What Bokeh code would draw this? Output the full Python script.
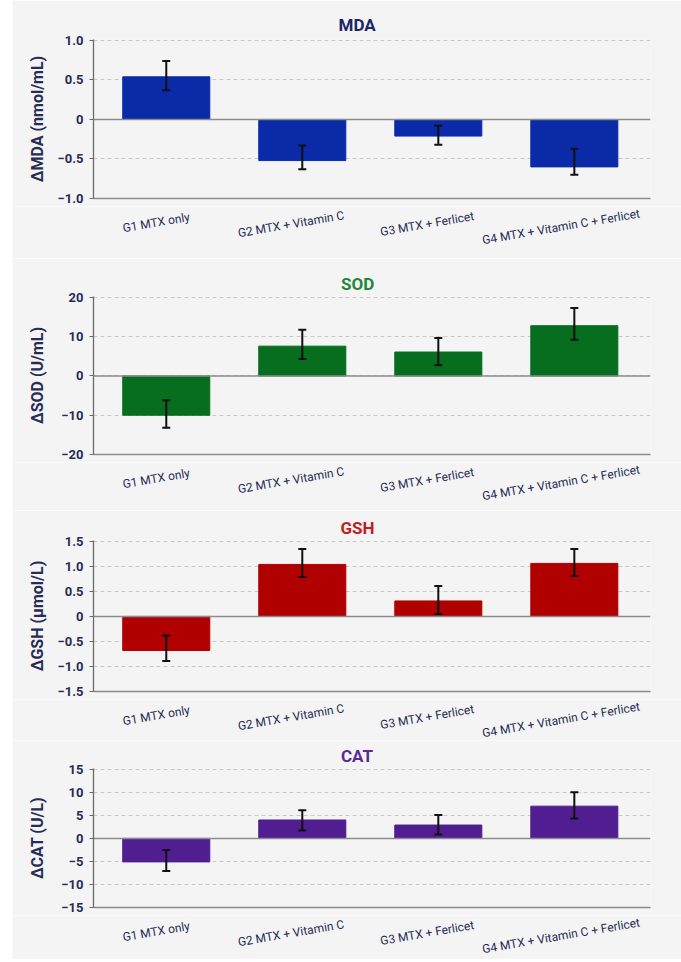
import math
from bokeh.plotting import figure
from bokeh.models import (ColumnDataSource, Range1d, FixedTicker, Whisker, TeeHead,
                          Span, Title)
from bokeh.layouts import column
from bokeh.embed import file_html
from bokeh.resources import INLINE
from bokeh.core.properties import value

# ---------------- data ----------------
groups = ["G1 MTX only", "G2 MTX + Vitamin C", "G3 MTX + Ferlicet",
          "G4 MTX + Vitamin C + Ferlicet"]

mda_mean = [0.54, -0.52, -0.21, -0.60]
mda_low = [0.37, -0.63, -0.32, -0.70]
mda_high = [0.74, -0.33, -0.08, -0.37]

sod_mean = [-10.0, 7.6, 6.1, 12.8]
sod_low = [-13.2, 4.3, 2.7, 9.2]
sod_high = [-6.2, 11.8, 9.7, 17.3]

gsh_mean = [-0.68, 1.04, 0.31, 1.06]
gsh_low = [-0.89, 0.79, 0.05, 0.81]
gsh_high = [-0.38, 1.35, 0.61, 1.35]

cat_mean = [-5.1, 4.0, 2.9, 7.0]
cat_low = [-7.1, 1.7, 0.85, 4.3]
cat_high = [-2.5, 6.1, 5.1, 10.05]

mda_ticks = [-1.0, -0.5, 0, 0.5, 1.0]
mda_tick_labels = ["\u22121.0", "\u22120.5", "0", "0.5", "1.0"]
sod_ticks = [-20, -10, 0, 10, 20]
sod_tick_labels = ["\u221220", "\u221210", "0", "10", "20"]
gsh_ticks = [-1.5, -1.0, -0.5, 0, 0.5, 1.0, 1.5]
gsh_tick_labels = ["\u22121.5", "\u22121.0", "\u22120.5", "0", "0.5", "1.0", "1.5"]
cat_ticks = [-15, -10, -5, 0, 5, 10, 15]
cat_tick_labels = ["\u221215", "\u221210", "\u22125", "0", "5", "10", "15"]

titles = ["MDA", "SOD", "GSH", "CAT"]
y_labels = ["\u0394MDA (nmol/mL)", "\u0394SOD (U/mL)", "\u0394GSH (\u00b5mol/L)", "\u0394CAT (U/L)"]

# ---------------- style ----------------
BG = "#f4f4f4"
NAVY = "#262c55"
bar_colors = ["#0a2aa8", "#066e1e", "#b00000", "#501e91"]
title_colors = ["#1b2569", "#21883a", "#bf1e24", "#5b2a93"]
# chart: (height, top border, bottom border); strip height below each chart
chart_spec = [(206, 39, 8), (204, 38, 8), (189, 30, 8), (175, 27, 8)]
strip_h = [52, 48, 41, 44]
title_w = [38, 33, 34, 33]          # approximate rendered title widths (px)
title_standoff = [10, 6, 6, 6]
ylab_standoff = [8, 11, 8, 11]

FONT = "Roboto"
LABEL_FS = 12
ANGLE = 0.17
W = 669
BL, BR = 81, 31
X0, X1 = -0.535, 3.56

x_range = Range1d(X0, X1)
ppu = (W - BL - BR) / (X1 - X0)       # pixels per category unit
strip_x_range = Range1d(X0 - BL / ppu, X1 + BR / ppu)

figs = []
panels = [
    (mda_mean, mda_low, mda_high, mda_ticks, mda_tick_labels),
    (sod_mean, sod_low, sod_high, sod_ticks, sod_tick_labels),
    (gsh_mean, gsh_low, gsh_high, gsh_ticks, gsh_tick_labels),
    (cat_mean, cat_low, cat_high, cat_ticks, cat_tick_labels),
]

for i, (mean, low, high, ticks, tlabels) in enumerate(panels):
    h, bt, bb = chart_spec[i]
    ymin, ymax = ticks[0], ticks[-1]
    xs = list(range(len(groups)))
    src = ColumnDataSource(dict(x=xs, mean=mean, low=low, high=high))

    p = figure(width=W, height=h, x_range=x_range,
               y_range=Range1d(ymin, ymax + (ymax - ymin) * 0.006),
               output_backend="svg", toolbar_location=None,
               min_border_left=BL, min_border_right=BR,
               min_border_top=bt, min_border_bottom=bb)
    p.background_fill_color = BG
    p.border_fill_color = BG
    p.outline_line_color = None

    t = Title(text=titles[i], align="left", offset=264 - title_w[i] / 2,
              standoff=title_standoff[i],
              text_font=FONT, text_font_size="17px", text_font_style="bold",
              text_color=title_colors[i])
    p.add_layout(t, "above")

    p.xgrid.grid_line_color = None
    p.ygrid.ticker = FixedTicker(ticks=ticks)
    p.ygrid.grid_line_color = "#c9c9c9"
    p.ygrid.grid_line_dash = "4 3"
    p.ygrid.grid_line_width = 1

    p.yaxis.ticker = FixedTicker(ticks=ticks)
    p.yaxis.major_label_overrides = {t_: l for t_, l in zip(ticks, tlabels)}
    p.yaxis.minor_tick_line_color = None
    p.yaxis.major_tick_in = 0
    p.yaxis.major_tick_out = 4
    p.yaxis.major_tick_line_color = "#6a6a6a"
    p.yaxis.axis_line_color = "#6a6a6a"
    p.yaxis.axis_line_width = 1.3
    p.yaxis.major_label_text_font = FONT
    p.yaxis.major_label_text_font_size = "13px"
    p.yaxis.major_label_text_font_style = "bold"
    p.yaxis.major_label_text_color = NAVY
    p.yaxis.major_label_standoff = 6
    p.yaxis.axis_label = y_labels[i]
    p.yaxis.axis_label_text_font = FONT
    p.yaxis.axis_label_text_font_size = "16px"
    p.yaxis.axis_label_text_font_style = "bold"
    p.yaxis.axis_label_text_color = NAVY
    p.yaxis.axis_label_standoff = ylab_standoff[i]

    p.xaxis.ticker = FixedTicker(ticks=[])
    p.xaxis.axis_line_color = "#8a8a8a"
    p.xaxis.axis_line_width = 1.5
    p.xaxis.major_tick_out = 0
    p.xaxis.major_tick_in = 0
    p.xaxis.major_label_standoff = 0
    p.xaxis.major_label_text_font_size = "0px"

    p.vbar(x="x", top="mean", bottom=0, width=0.64, source=src,
           fill_color=bar_colors[i], line_color=bar_colors[i])

    p.add_layout(Span(location=0, dimension="width", line_color="#8c8c8c",
                      line_width=1.5))

    wh = Whisker(base="x", upper="high", lower="low", source=src, level="annotation",
                 line_color="#111111", line_width=2,
                 upper_head=TeeHead(size=8, line_color="#111111", line_width=2),
                 lower_head=TeeHead(size=8, line_color="#111111", line_width=2))
    p.add_layout(wh)
    figs.append(p)

    # ---- strip with the rotated category labels ----
    sh = strip_h[i]
    lx_off, ly = [], []
    for g in groups:
        w = len(g) * LABEL_FS * 0.46
        lx_off.append(-(8 + 0.033 * w))
        ly.append(-(21.5 + 0.043 * w - bb))
    lsrc = ColumnDataSource(dict(x=xs, y=ly, xo=lx_off, g=groups))
    s = figure(width=W, height=sh, x_range=strip_x_range, y_range=Range1d(-sh, 0),
               output_backend="svg", toolbar_location=None,
               x_axis_type=None, y_axis_type=None,
               min_border_left=0, min_border_right=0,
               min_border_top=0, min_border_bottom=0)
    s.frame_align = False
    s.background_fill_color = BG
    s.border_fill_color = BG
    s.outline_line_color = None
    s.grid.grid_line_color = None
    s.text(x="x", y="y", text="g", source=lsrc, x_offset="xo", angle=ANGLE,
           text_align="center", text_baseline="middle",
           text_font=value(FONT), text_font_size=f"{LABEL_FS}px", text_color=NAVY)
    figs.append(s)

layout = column(*figs, spacing=0, margin=(0, 0, 0, 12))
open("out.html", "w").write(file_html(layout, INLINE, title="Oxidative stress markers"))
